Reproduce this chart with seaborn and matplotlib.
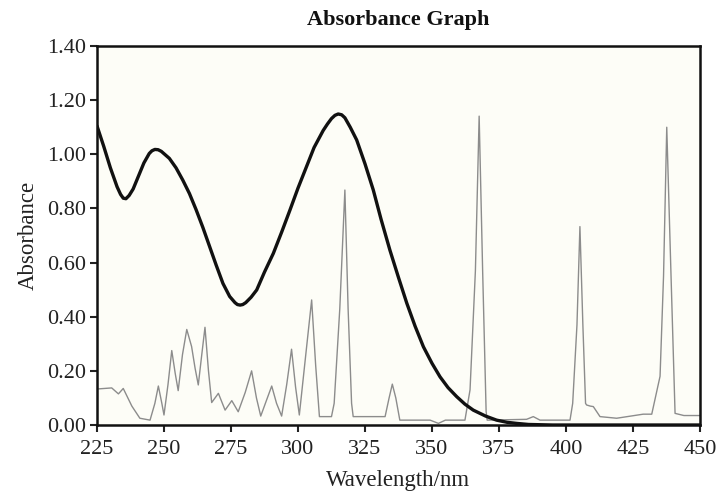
import matplotlib
matplotlib.use("Agg")
import matplotlib.pyplot as plt
import seaborn as sns
import pandas as pd
from matplotlib.ticker import FormatStrFormatter

# Thick black absorbance curve
wl_black = [225, 227.5, 230, 232.5, 233.8, 234.8, 235.8, 237, 238.5, 240.5, 242.5,
            244.5, 245.5, 246.6, 247.8, 249, 252, 254.5, 257, 259.5, 262, 264.5, 267,
            269.5, 272, 274.5, 276.5, 277.4, 278.4, 279.4, 280.5, 282.5, 284.6, 287.5,
            290.8, 294, 297, 300, 303, 306, 309.4, 311, 312.5, 313.8, 315, 316.3,
            317.5, 319.5, 321.9, 325, 328.1, 331, 334.3, 337.5, 340.6, 343.7, 346.8,
            350, 353, 356, 359.2, 362.3, 365.4, 370, 374.1, 378, 381.6, 386, 395, 450]
abs_black = [1.105, 1.03, 0.95, 0.88, 0.852, 0.838, 0.836, 0.848, 0.872, 0.92, 0.968,
             1.003, 1.013, 1.018, 1.017, 1.011, 0.985, 0.95, 0.905, 0.855, 0.795, 0.73,
             0.66, 0.59, 0.523, 0.475, 0.452, 0.445, 0.443, 0.445, 0.452, 0.472, 0.499,
             0.565, 0.634, 0.715, 0.794, 0.875, 0.95, 1.025, 1.088, 1.112, 1.132,
             1.144, 1.149, 1.146, 1.135, 1.10, 1.053, 0.965, 0.868, 0.76, 0.646, 0.545,
             0.45, 0.365, 0.289, 0.228, 0.178, 0.138, 0.105, 0.077, 0.055, 0.033, 0.018,
             0.01, 0.006, 0.002, 0.0, 0.0]

# Thin grey lamp emission-line trace
wl_grey = [225, 230.5, 233, 234.8, 238, 241, 244.8, 246.6, 247.9, 249.2, 250, 251.5,
           252.9, 254.2, 255.3, 256.9, 258.5, 260.3, 261.6, 262.8, 264.1, 265.3, 266.6,
           267.8, 270.3, 272.8, 275.3, 277.7, 280.3, 282.7, 284.5, 286.1, 288.2, 290.2,
           292, 293.9, 295.8, 297.6, 299.1, 300.5, 302.8, 305.1, 306.6, 308, 312.5,
           313.5, 315.6, 317.5, 318.7, 320, 320.6, 332.5, 334, 335.2, 336.5, 338,
           349.3, 352.4, 355, 362.3, 364.2, 366.2, 367.6, 368.9, 370.2, 370.6, 385.3,
           387.8, 390.3, 401.5, 402.5, 404.1, 405.2, 406.3, 407.3, 407.7, 409, 410.2,
           412.7, 418.9, 428.8, 432, 435.1, 436.4, 437.6, 439.2, 440.7, 444, 450]
abs_grey = [0.133, 0.137, 0.115, 0.135, 0.07, 0.025, 0.018, 0.08, 0.144, 0.08, 0.037, 0.15,
            0.275, 0.19, 0.127, 0.26, 0.353, 0.29, 0.21, 0.148, 0.26, 0.361, 0.2,
            0.083, 0.117, 0.055, 0.09, 0.049, 0.12, 0.20, 0.1, 0.033, 0.09, 0.144,
            0.08, 0.033, 0.15, 0.28, 0.14, 0.037, 0.25, 0.462, 0.22, 0.031, 0.031,
            0.08, 0.43, 0.868, 0.43, 0.08, 0.031, 0.031, 0.1, 0.151, 0.1, 0.018,
            0.018, 0.006, 0.018, 0.018, 0.13, 0.57, 1.141, 0.57, 0.05, 0.018, 0.021,
            0.031, 0.018, 0.018, 0.08, 0.37, 0.733, 0.37, 0.08, 0.074, 0.07, 0.068,
            0.031, 0.025, 0.04, 0.04, 0.18, 0.55, 1.10, 0.55, 0.043, 0.035, 0.035]

x_ticks = [225, 250, 275, 300, 325, 350, 375, 400, 425, 450]
y_ticks = [0.0, 0.2, 0.4, 0.6, 0.8, 1.0, 1.2, 1.4]

df_black = pd.DataFrame({"wl": wl_black, "A": abs_black})
df_grey = pd.DataFrame({"wl": wl_grey, "A": abs_grey})

sns.set_style("ticks")
plt.rcParams["font.family"] = ["Liberation Serif", "DejaVu Serif"]

fig = plt.figure(figsize=(7.2, 4.95), dpi=100)
ax = fig.add_axes([0.1347, 0.1414, 0.9722 - 0.1347, 0.907 - 0.1414])
ax.set_facecolor("#fdfdf7")

sns.lineplot(data=df_grey, x="wl", y="A", ax=ax, color="#8c8c8c", linewidth=1.0,
             estimator=None, sort=False)
sns.lineplot(data=df_black, x="wl", y="A", ax=ax, color="#111111", linewidth=2.4,
             estimator=None, sort=False)

ax.set_xlim(225, 450)
ax.set_ylim(0, 1.4)
ax.set_xticks(x_ticks)
ax.set_yticks(y_ticks)
ax.yaxis.set_major_formatter(FormatStrFormatter("%.2f"))
ax.tick_params(axis="both", direction="out", length=5, width=1.5, labelsize=16,
               colors="#222222", pad=3)
ax.tick_params(axis="x", pad=6)
for s in ax.spines.values():
    s.set_visible(True)
    s.set_linewidth(1.8)
    s.set_color("#111111")

ax.set_xlabel("Wavelength/nm", fontsize=16.5, color="#222222", labelpad=8)
ax.set_ylabel("Absorbance", fontsize=16.5, color="#222222", labelpad=6)
ax.set_title("Absorbance Graph", fontsize=16, fontweight="bold", color="#111111", pad=15)

fig.savefig("out.png", dpi=100)
